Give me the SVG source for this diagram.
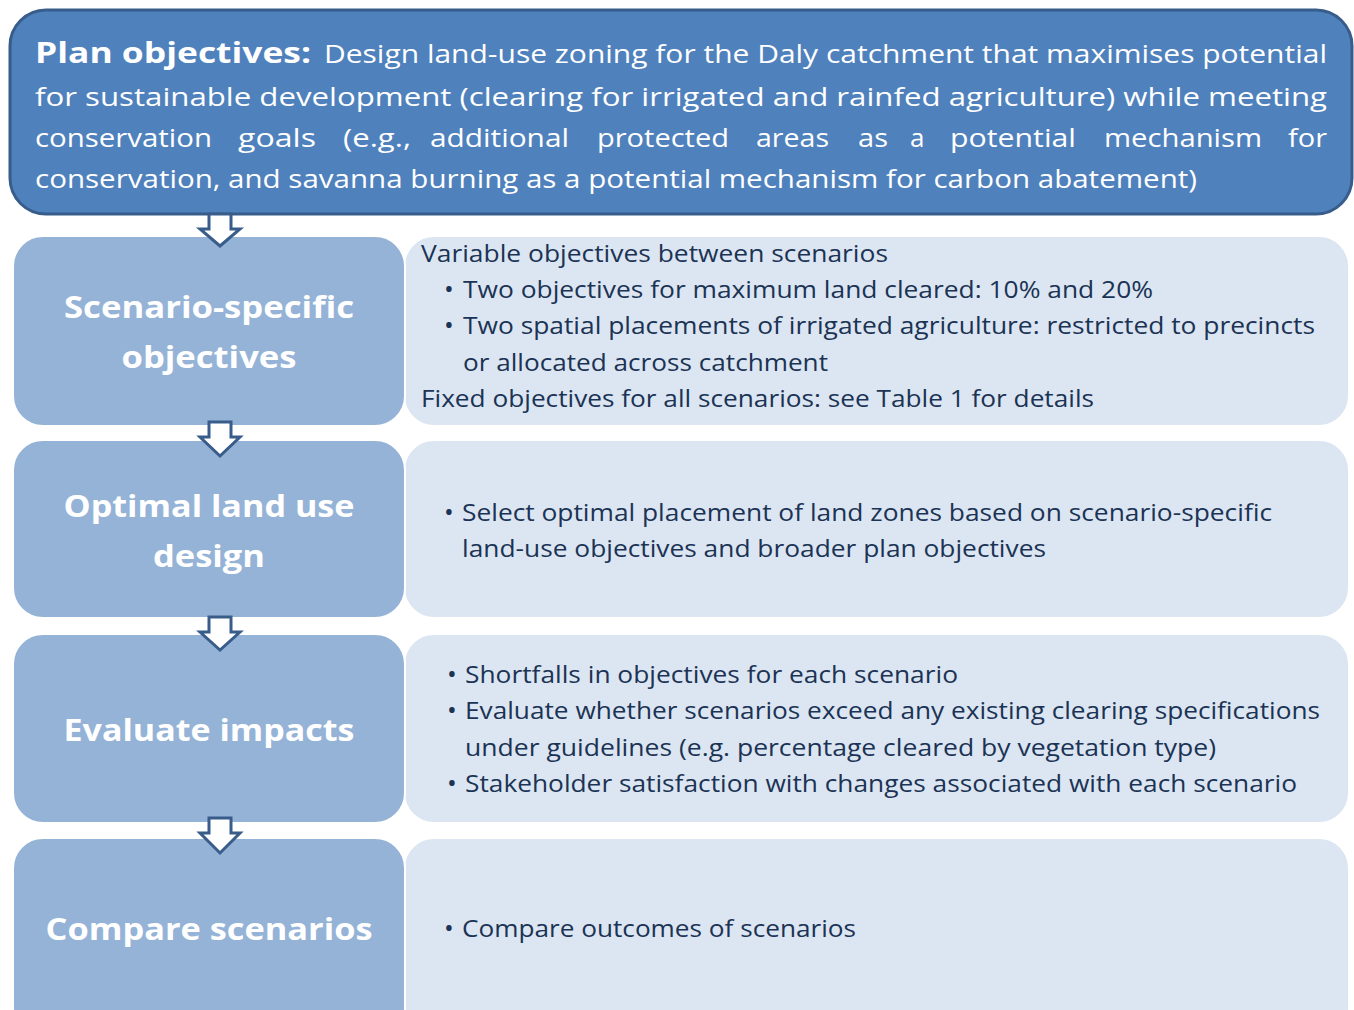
<svg xmlns="http://www.w3.org/2000/svg" width="1354" height="1010" viewBox="0 0 1354 1010">
<defs>
<style>
.top{fill:#4f81bd;stroke:#385d8a;stroke-width:3}
.lbox{fill:#95b3d7;stroke:#ffffff;stroke-width:2}
.rbox{fill:#dce6f2;stroke:#ffffff;stroke-width:2}
.arrow{fill:#ffffff;stroke:#385d8a;stroke-width:3;stroke-linejoin:miter}
.tt{font-family:"Open Sans","Liberation Sans",sans-serif;font-size:26px;fill:#ffffff}
.tb{font-family:"Open Sans","Liberation Sans",sans-serif;font-size:29px;font-weight:bold;fill:#ffffff}
.lt{font-family:"Open Sans","Liberation Sans",sans-serif;font-size:30px;font-weight:bold;fill:#ffffff;text-anchor:middle}
.rt{font-family:"Open Sans","Liberation Sans",sans-serif;font-size:24px;fill:#1b3354}
.bu{font-family:"Open Sans","Liberation Sans",sans-serif;font-size:26px;fill:#1b3354}
</style>
</defs>
<rect width="1354" height="1010" fill="#ffffff"/>

<g id="plan-objectives">
<rect class="top" x="10" y="10" width="1342" height="204" rx="36" ry="36"/>
<text class="tb" x="35" y="63" textLength="276" lengthAdjust="spacingAndGlyphs">Plan objectives:</text>
<text class="tt" x="324" y="63" textLength="1003" lengthAdjust="spacingAndGlyphs">Design land-use zoning for the Daly catchment that maximises potential</text>
<text class="tt" x="35" y="106" textLength="1292" lengthAdjust="spacingAndGlyphs">for sustainable development (clearing for irrigated and rainfed agriculture) while meeting</text>
<text class="tt" y="147"><tspan x="35" textLength="177" lengthAdjust="spacingAndGlyphs">conservation</tspan><tspan x="238" textLength="78" lengthAdjust="spacingAndGlyphs">goals</tspan><tspan x="343" textLength="68" lengthAdjust="spacingAndGlyphs">(e.g.,</tspan><tspan x="430" textLength="139" lengthAdjust="spacingAndGlyphs">additional</tspan><tspan x="597" textLength="132" lengthAdjust="spacingAndGlyphs">protected</tspan><tspan x="756" textLength="73" lengthAdjust="spacingAndGlyphs">areas</tspan><tspan x="858" textLength="30" lengthAdjust="spacingAndGlyphs">as</tspan><tspan x="910">a</tspan><tspan x="950" textLength="126" lengthAdjust="spacingAndGlyphs">potential</tspan><tspan x="1104" textLength="158" lengthAdjust="spacingAndGlyphs">mechanism</tspan><tspan x="1288" textLength="39" lengthAdjust="spacingAndGlyphs">for</tspan></text>
<text class="tt" x="35" y="188" textLength="1162" lengthAdjust="spacingAndGlyphs">conservation, and savanna burning as a potential mechanism for carbon abatement)</text>
</g>

<g id="scenario-specific-details">
<rect class="rbox" x="404" y="236" width="945" height="190" rx="30" ry="30"/>
<text class="rt" x="421" y="262" textLength="467" lengthAdjust="spacingAndGlyphs">Variable objectives between scenarios</text>
<text class="bu" x="444" y="298">•</text>
<text class="rt" x="463" y="298" textLength="690" lengthAdjust="spacingAndGlyphs">Two objectives for maximum land cleared: 10% and 20%</text>
<text class="bu" x="444" y="334">•</text>
<text class="rt" x="463" y="334" textLength="852" lengthAdjust="spacingAndGlyphs">Two spatial placements of irrigated agriculture: restricted to precincts</text>
<text class="rt" x="463" y="371" textLength="365" lengthAdjust="spacingAndGlyphs">or allocated across catchment</text>
<text class="rt" x="421" y="407" textLength="673" lengthAdjust="spacingAndGlyphs">Fixed objectives for all scenarios: see Table 1 for details</text>
</g>
<g id="scenario-specific">
<rect class="lbox" x="13" y="236" width="392" height="190" rx="30" ry="30"/>
<text class="lt" x="209" y="318" textLength="290" lengthAdjust="spacingAndGlyphs">Scenario-specific</text>
<text class="lt" x="209" y="368" textLength="175" lengthAdjust="spacingAndGlyphs">objectives</text>
</g>

<g id="optimal-design-details">
<rect class="rbox" x="404" y="440" width="945" height="178" rx="30" ry="30"/>
<text class="bu" x="444" y="521">•</text>
<text class="rt" x="462" y="521" textLength="810" lengthAdjust="spacingAndGlyphs">Select optimal placement of land zones based on scenario-specific</text>
<text class="rt" x="462" y="557" textLength="584" lengthAdjust="spacingAndGlyphs">land-use objectives and broader plan objectives</text>
</g>
<g id="optimal-design">
<rect class="lbox" x="13" y="440" width="392" height="178" rx="30" ry="30"/>
<text class="lt" x="209" y="517" textLength="291" lengthAdjust="spacingAndGlyphs">Optimal land use</text>
<text class="lt" x="209" y="567" textLength="112" lengthAdjust="spacingAndGlyphs">design</text>
</g>

<g id="evaluate-impacts-details">
<rect class="rbox" x="404" y="634" width="945" height="189" rx="30" ry="30"/>
<text class="bu" x="447" y="683">•</text>
<text class="rt" x="465" y="683" textLength="493" lengthAdjust="spacingAndGlyphs">Shortfalls in objectives for each scenario</text>
<text class="bu" x="447" y="719">•</text>
<text class="rt" x="465" y="719" textLength="855" lengthAdjust="spacingAndGlyphs">Evaluate whether scenarios exceed any existing clearing specifications</text>
<text class="rt" x="465" y="756" textLength="751" lengthAdjust="spacingAndGlyphs">under guidelines (e.g. percentage cleared by vegetation type)</text>
<text class="bu" x="447" y="792">•</text>
<text class="rt" x="465" y="792" textLength="832" lengthAdjust="spacingAndGlyphs">Stakeholder satisfaction with changes associated with each scenario</text>
</g>
<g id="evaluate-impacts">
<rect class="lbox" x="13" y="634" width="392" height="189" rx="30" ry="30"/>
<text class="lt" x="209" y="741" textLength="291" lengthAdjust="spacingAndGlyphs">Evaluate impacts</text>
</g>

<g id="compare-details">
<rect class="rbox" x="404" y="838" width="945" height="200" rx="30" ry="30"/>
<text class="bu" x="444" y="937">•</text>
<text class="rt" x="462" y="937" textLength="394" lengthAdjust="spacingAndGlyphs">Compare outcomes of scenarios</text>
</g>
<g id="compare-scenarios">
<rect class="lbox" x="13" y="838" width="392" height="200" rx="30" ry="30"/>
<text class="lt" x="209" y="940" textLength="327" lengthAdjust="spacingAndGlyphs">Compare scenarios</text>
</g>

<g id="connectors">
<polygon class="arrow" points="209,214 231,214 231,229 240,229 220,246 200,229 209,229"/>
<polygon class="arrow" points="209,422 231,422 231,437 240,437 220,456 200,437 209,437"/>
<polygon class="arrow" points="209,617 231,617 231,632 240,632 220,650 200,632 209,632"/>
<polygon class="arrow" points="209,818 231,818 231,833 240,833 220,853 200,833 209,833"/>
</g>
</svg>
